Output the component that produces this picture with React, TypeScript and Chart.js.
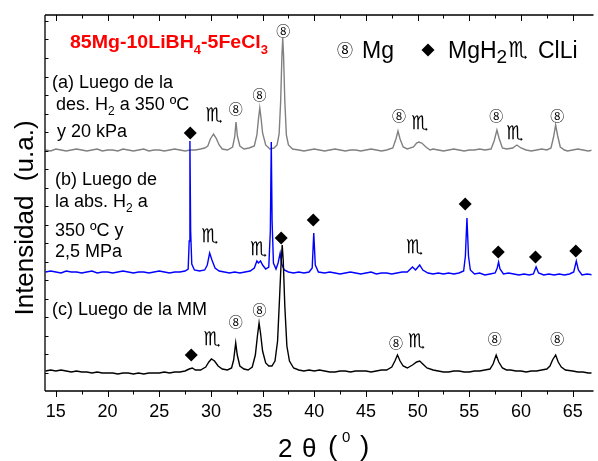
import React, { useEffect, useRef } from 'react';
import { Chart, registerables } from 'chart.js';
Chart.register(...registerables);

const X_MIN = 13.95;
const X_MAX = 66.82;
const Y_MAX = 376;
const Y_TICK_STEP = 18.5;
const xTickLabels = [15, 20, 25, 30, 35, 40, 45, 50, 55, 60, 65];

// (a) gray trace — after H2 desorption
const traceA: [number, number][] = [
  [14.0,241],[14.5,240],[15.0,242],[15.5,241],[16.0,240],[16.5,241],[17.0,242],[17.5,241],[18.0,240],[18.5,241],
  [19.0,242],[19.5,240],[20.0,241],[20.5,241],[21.0,240],[21.5,242],[22.0,241],[22.5,240],[23.0,241],[23.5,242],
  [24.0,240],[24.5,241],[25.0,241],[25.5,240],[26.0,241],[26.5,242],[27.0,241],[27.5,240],[28.0,241],[28.5,241],
  [29.0,242],[29.4,243],[29.7,245],[29.95,252],[30.25,257],[30.5,253],[30.8,246],[31.1,242],[31.6,241],[32.1,244],
  [32.3,254],[32.43,269],[32.56,255],[32.8,245],[33.2,242],[33.7,243],[34.2,245],[34.45,256],[34.6,272],[34.73,283],
  [34.86,272],[35.0,258],[35.3,246],[35.7,242],[36.1,243],[36.4,246],[36.6,257],[36.75,290],[36.87,335],[36.95,353],
  [37.03,335],[37.15,290],[37.3,256],[37.5,246],[37.9,242],[38.5,241],[39.0,240],[39.5,241],[40.0,242],[40.5,241],
  [41.0,240],[41.5,241],[42.0,242],[42.5,241],[43.0,240],[43.5,241],[44.0,241],[44.5,240],[45.0,241],[45.5,242],
  [46.0,241],[46.5,240],[47.0,241],[47.6,243],[47.9,252],[48.1,260],[48.3,252],[48.6,244],[49.0,242],[49.6,244],
  [49.9,248],[50.1,249],[50.4,248],[50.8,244],[51.2,241],[51.5,242],[52.0,241],[52.5,240],[53.0,241],[53.5,242],
  [54.0,241],[54.5,240],[55.0,241],[55.5,241],[56.0,242],[56.5,241],[57.1,242],[57.4,250],[57.67,261],[57.9,252],
  [58.2,243],[58.6,242],[59.2,243],[59.6,246],[60.0,243],[60.5,241],[61.0,240],[61.5,241],[62.0,242],[62.5,241],
  [62.9,243],[63.15,254],[63.35,266],[63.55,255],[63.8,244],[64.2,241],[64.5,240],[65.0,241],[65.5,242],[66.0,241],
  [66.5,240],[67.0,241],
];

// (b) blue trace — after H2 absorption
const traceB: [number, number][] = [
  [14.0,119],[14.5,120],[15.0,119],[15.5,118],[16.0,120],[16.5,119],[17.0,119],[17.5,118],[18.0,119],[18.5,120],
  [19.0,118],[19.5,119],[20.0,119],[20.5,118],[21.0,119],[21.5,120],[22.0,119],[22.5,118],[23.0,119],[23.5,119],
  [24.0,118],[24.5,119],[25.0,120],[25.5,119],[26.0,118],[26.5,119],[27.0,119],[27.5,120],[27.8,122],[27.9,150],
  [27.97,250],[28.04,160],[28.15,127],[28.4,121],[28.9,120],[29.4,121],[29.65,126],[29.88,138],[30.1,131],[30.4,123],
  [30.8,120],[31.3,119],[31.8,118],[32.3,119],[32.8,118],[33.3,119],[33.8,120],[34.2,123],[34.45,130],[34.6,128],
  [34.8,130],[35.0,126],[35.3,122],[35.6,124],[35.75,160],[35.84,249],[35.92,170],[36.05,128],[36.3,122],[36.5,128],
  [36.7,138],[36.85,127],[37.1,121],[37.5,119],[38.0,118],[38.5,119],[39.0,118],[39.5,119],[39.8,123],[39.95,158],
  [40.1,126],[40.4,119],[41.0,118],[41.5,119],[42.0,118],[42.5,117],[43.0,118],[43.5,119],[44.0,118],[44.5,117],
  [45.0,118],[45.5,119],[46.0,117],[46.5,118],[47.0,118],[47.5,117],[48.0,118],[48.5,119],[49.0,119],[49.3,122],
  [49.5,124],[49.8,121],[50.2,126],[50.5,121],[51.0,118],[51.5,117],[52.0,118],[52.5,117],[53.0,118],[53.5,117],
  [54.0,118],[54.45,120],[54.62,135],[54.77,173],[54.92,135],[55.1,121],[55.5,117],[56.0,118],[56.5,116],[57.0,117],
  [57.5,118],[57.7,123],[57.83,129],[57.97,122],[58.3,117],[58.8,118],[59.3,117],[59.8,116],[60.3,117],[60.8,116],
  [61.2,117],[61.46,124],[61.7,118],[62.2,116],[62.7,117],[63.2,116],[63.7,117],[64.2,116],[64.7,117],[65.1,119],
  [65.35,130],[65.55,121],[65.9,116],[66.4,117],[67.0,116],
];

// (c) black trace — after milling
const traceC: [number, number][] = [
  [14.0,20],[14.5,21],[15.0,20],[15.5,21],[16.0,20],[16.5,19],[17.0,20],[17.5,19],[18.0,19],[18.5,18],
  [19.0,19],[19.5,18],[20.0,18],[20.5,18],[21.0,17],[21.5,18],[22.0,18],[22.5,17],[23.0,18],[23.5,17],
  [24.0,18],[24.5,18],[25.0,18],[25.5,19],[26.0,18],[26.5,19],[27.0,19],[27.5,20],[27.9,22],[28.2,23],
  [28.5,21],[29.0,21],[29.5,24],[29.8,29],[30.05,32],[30.35,30],[30.7,25],[31.1,22],[31.6,21],[32.0,23],
  [32.2,31],[32.4,48],[32.55,36],[32.8,25],[33.2,22],[33.6,21],[34.0,24],[34.3,36],[34.5,55],[34.66,68],
  [34.8,58],[35.0,40],[35.3,28],[35.6,25],[35.9,25],[36.2,30],[36.45,50],[36.65,95],[36.8,130],[36.9,146],
  [37.0,130],[37.15,85],[37.35,45],[37.6,30],[38.0,23],[38.5,21],[39.0,20],[39.5,21],[40.0,20],[40.5,21],
  [41.0,20],[41.5,19],[42.0,19],[42.5,20],[43.0,20],[43.5,19],[44.0,20],[44.5,20],[45.0,20],[45.5,19],
  [46.0,20],[46.5,21],[47.0,21],[47.5,24],[47.8,30],[48.05,36],[48.3,30],[48.6,25],[49.0,23],[49.5,26],
  [49.9,29],[50.2,30],[50.5,27],[50.9,23],[51.5,21],[52.0,20],[52.5,19],[53.0,19],[53.5,20],[54.0,20],
  [54.5,19],[55.0,19],[55.5,20],[56.0,20],[56.5,21],[57.0,22],[57.3,27],[57.6,36],[57.85,29],[58.2,23],
  [58.6,21],[59.0,21],[59.5,20],[60.0,20],[60.5,19],[61.0,20],[61.5,20],[62.0,21],[62.5,22],[62.8,25],
  [63.05,31],[63.35,36],[63.6,29],[63.9,24],[64.3,21],[65.0,20],[65.5,19],[66.0,19],[66.5,18],[67.0,18],
];

// Phase markers (x = 2θ, y = intensity units)
const mgMarks: [number, number][] = [
  [32.4,282],[34.7,296],[37.0,360],[48.2,275],[57.6,275],[63.5,275],
  [32.4,69],[34.7,81],[47.9,48],[57.45,52],[63.5,52],
];
const clliMarks: [number, number][] = [
  [30.3,275],[50.2,267],[59.4,257],
  [29.9,154],[34.6,141],[49.7,143],
  [30.1,51],[49.9,49],
];
const mgh2Marks: [number, number][] = [
  [28.0,258],[36.8,153],[39.9,171],[54.6,187],[57.8,139],[61.4,134],[65.3,140],[28.1,36],
];

const F = 'Arial, "Liberation Sans", sans-serif';
const CIRC = '"Noto Sans CJK JP", "DejaVu Sans", sans-serif';
const SYM = '"DejaVu Sans", sans-serif';

type Part = { t: string; f: string; dy?: number };
function drawRuns(ctx: CanvasRenderingContext2D, x: number, y: number, parts: Part[]) {
  let cx = x;
  for (const p of parts) {
    ctx.font = p.f;
    ctx.fillText(p.t, cx, y + (p.dy || 0));
    cx += ctx.measureText(p.t).width;
  }
  return cx - x;
}
function measureRuns(ctx: CanvasRenderingContext2D, parts: Part[]) {
  let w = 0;
  for (const p of parts) { ctx.font = p.f; w += ctx.measureText(p.t).width; }
  return w;
}

const overlay = {
  id: 'overlay',
  afterDatasetsDraw(chart: any) {
    const { ctx, chartArea: a, scales } = chart;
    const x = scales.x, y = scales.y;
    ctx.save();
    // axis frame
    ctx.strokeStyle = '#000';
    ctx.lineWidth = 1.3;
    ctx.beginPath();
    ctx.moveTo(a.left, a.top); ctx.lineTo(a.right + 2, a.top);
    ctx.moveTo(a.left, a.top); ctx.lineTo(a.left, a.bottom);
    ctx.moveTo(a.left, a.bottom); ctx.lineTo(a.right + 2, a.bottom);
    ctx.stroke();
    // ticks
    ctx.lineWidth = 1;
    ctx.beginPath();
    for (const v of xTickLabels) {
      const px = Math.round(x.getPixelForValue(v)) + 0.5;
      ctx.moveTo(px, a.bottom); ctx.lineTo(px, a.bottom + 6);
      ctx.moveTo(px, a.top); ctx.lineTo(px, a.top + 6);
      const m = v + 2.5;
      if (m < X_MAX) {
        const pm = Math.round(x.getPixelForValue(m)) + 0.5;
        ctx.moveTo(pm, a.bottom); ctx.lineTo(pm, a.bottom + 3.5);
        ctx.moveTo(pm, a.top); ctx.lineTo(pm, a.top + 3.5);
      }
    }
    for (let v = Y_TICK_STEP; v < Y_MAX; v += Y_TICK_STEP) {
      const py = Math.round(y.getPixelForValue(v)) + 0.5;
      ctx.moveTo(a.left, py); ctx.lineTo(a.left + 3.5, py);
    }
    ctx.stroke();

    // phase symbols
    ctx.fillStyle = '#000';
    ctx.textAlign = 'center';
    ctx.textBaseline = 'middle';
    ctx.font = `14px ${CIRC}`;
    for (const [vx, vy] of mgMarks) ctx.fillText('⑧', x.getPixelForValue(vx), y.getPixelForValue(vy));
    ctx.font = `bold 19px ${SYM}`;
    for (const [vx, vy] of clliMarks) ctx.fillText('♏', x.getPixelForValue(vx), y.getPixelForValue(vy));

    // legend
    ctx.font = `16px ${CIRC}`;
    ctx.fillText('⑧', 345, 50);
    ctx.font = `bold 22px ${SYM}`;
    ctx.fillText('♏', 518, 51);
    ctx.beginPath();
    ctx.moveTo(428 - 6.5, 50); ctx.lineTo(428, 43.5); ctx.lineTo(428 + 6.5, 50); ctx.lineTo(428, 56.5);
    ctx.closePath(); ctx.fill();
    ctx.textAlign = 'left';
    ctx.textBaseline = 'alphabetic';
    drawRuns(ctx, 362, 58, [{ t: 'Mg', f: `23px ${F}` }]);
    drawRuns(ctx, 448, 58, [{ t: 'MgH', f: `23px ${F}` }, { t: '2', f: `19px ${F}`, dy: 5 }]);
    drawRuns(ctx, 538, 58, [{ t: 'ClLi', f: `23px ${F}` }]);

    // red title
    ctx.fillStyle = '#ff0000';
    const tParts: Part[] = [
      { t: '85Mg-10LiBH', f: `bold 18px ${F}` },
      { t: '4', f: `bold 12px ${F}`, dy: 6 },
      { t: '-5FeCl', f: `bold 18px ${F}` },
      { t: '3', f: `bold 12px ${F}`, dy: 6 },
    ];
    const tw = measureRuns(ctx, tParts);
    ctx.save();
    ctx.translate(70, 48);
    ctx.scale(198 / tw, 1);
    drawRuns(ctx, 0, 0, tParts);
    ctx.restore();

    // sample labels
    ctx.fillStyle = '#000';
    const N = `18px ${F}`;
    const S = `12px ${F}`;
    drawRuns(ctx, 52, 88, [{ t: '(a) Luego de la', f: N }]);
    drawRuns(ctx, 56, 110, [{ t: 'des. H', f: N }, { t: '2', f: S, dy: 5 }, { t: ' a 350 ºC', f: N }]);
    drawRuns(ctx, 57, 137, [{ t: 'y 20 kPa', f: N }]);
    drawRuns(ctx, 55, 185, [{ t: '(b) Luego de', f: N }]);
    drawRuns(ctx, 55, 207, [{ t: 'la abs. H', f: N }, { t: '2', f: S, dy: 5 }, { t: ' a', f: N }]);
    drawRuns(ctx, 55, 236, [{ t: '350 ºC y', f: N }]);
    drawRuns(ctx, 55, 257, [{ t: '2,5 MPa', f: N }]);
    drawRuns(ctx, 52, 315, [{ t: '(c) Luego de la MM', f: N }]);

    // x axis title
    ctx.font = `26px ${F}`;
    ctx.fillText('2', 278, 457);
    ctx.fillText('θ', 302, 457);
    ctx.font = `28px ${F}`;
    ctx.fillText('(', 328, 455);
    ctx.fillText(')', 360, 455);
    ctx.font = `15px ${F}`;
    ctx.fillText('0', 342, 442);

    // y axis title
    ctx.save();
    ctx.translate(33, 218);
    ctx.rotate(-Math.PI / 2);
    ctx.textAlign = 'center';
    ctx.font = `26px ${F}`;
    ctx.fillText('Intensidad  (u.a.)', 0, 0);
    ctx.restore();

    ctx.restore();
  },
};

export default function App() {
  const ref = useRef<HTMLCanvasElement>(null);
  useEffect(() => {
    const toXY = (arr: [number, number][]) => arr.map(([x, y]) => ({ x, y }));
    const chart = new Chart(ref.current as HTMLCanvasElement, {
      type: 'line',
      data: {
        datasets: [
          {
            type: 'scatter',
            label: 'MgH2',
            data: toXY(mgh2Marks),
            pointStyle: 'rectRot',
            pointRadius: 6.5,
            backgroundColor: '#000',
            borderColor: '#000',
            borderWidth: 0,
            order: 0,
          } as any,
          { label: '(c)', data: toXY(traceC), borderColor: '#000000', borderWidth: 1.4, pointRadius: 0, order: 1 },
          { label: '(b)', data: toXY(traceB), borderColor: '#0000ff', borderWidth: 1.4, pointRadius: 0, order: 2 },
          { label: '(a)', data: toXY(traceA), borderColor: '#808080', borderWidth: 1.4, pointRadius: 0, order: 3 },
        ],
      },
      options: {
        responsive: false,
        animation: false,
        devicePixelRatio: 1,
        events: [],
        layout: { padding: { left: 45, top: 15, right: 0, bottom: 0 } },
        elements: { line: { tension: 0 } },
        plugins: { legend: { display: false }, tooltip: { enabled: false } },
        scales: {
          x: {
            type: 'linear',
            min: X_MIN,
            max: X_MAX,
            grid: { display: false, drawTicks: false },
            border: { display: false },
            afterBuildTicks: (s: any) => { s.ticks = xTickLabels.map((v) => ({ value: v })); },
            afterFit: (s: any) => { s.height = 70; },
            ticks: {
              autoSkip: false,
              maxRotation: 0,
              color: '#000',
              padding: 10,
              font: { family: F, size: 18 },
            },
          },
          y: { display: false, min: 0, max: Y_MAX },
        },
      },
      plugins: [overlay],
    } as any);
    return () => chart.destroy();
  }, []);
  return (
    <div style={{ position: 'absolute', left: 0, top: 0, width: 598, height: 461, background: '#fff' }}>
      <canvas ref={ref} width={598} height={461} style={{ display: 'block', width: 598, height: 461 }} />
    </div>
  );
}
